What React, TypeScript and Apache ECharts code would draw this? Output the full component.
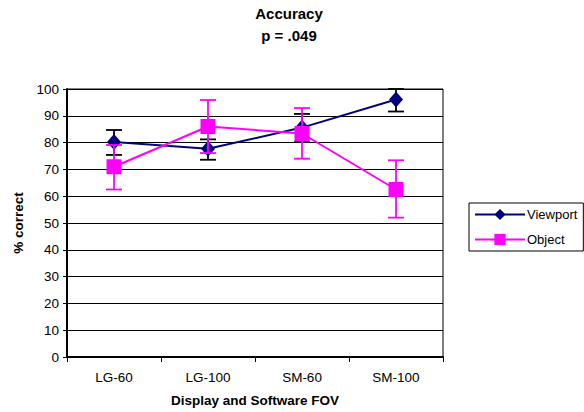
import React, { useEffect, useRef } from "react";
import * as echarts from "echarts";

const categories = ["LG-60", "LG-100", "SM-60", "SM-100"];
const viewport = [80.2, 77.7, 85.6, 96.1];
const viewportLow = [75.4, 73.6, 80.2, 91.6];
const viewportHigh = [84.7, 81.2, 90.7, 100];
const objectVals = [71, 86, 83.4, 62.5];
const objectLow = [62.5, 76.1, 74, 52];
const objectHigh = [79.1, 95.9, 92.9, 73.4];

const FONT = "Liberation Sans, Arial, sans-serif";

function errorSeries(name: string, low: number[], high: number[], color: string, z: number) {
  return {
    type: "custom",
    name: name + " error",
    z,
    silent: true,
    data: low.map((l, i) => [i, l, high[i]]),
    encode: { x: 0, y: [1, 2] },
    renderItem: (params: any, api: any) => {
      const i = api.value(0);
      const lo = api.coord([i, api.value(1)]);
      const hi = api.coord([i, api.value(2)]);
      const hw = 8;
      const style = { stroke: color, lineWidth: 1.8 };
      return {
        type: "group",
        children: [
          { type: "line", shape: { x1: lo[0], y1: lo[1], x2: hi[0], y2: hi[1] }, style },
          { type: "line", shape: { x1: lo[0] - hw, y1: lo[1], x2: lo[0] + hw, y2: lo[1] }, style },
          { type: "line", shape: { x1: hi[0] - hw, y1: hi[1], x2: hi[0] + hw, y2: hi[1] }, style },
        ],
      };
    },
  };
}

export default function App() {
  const ref = useRef<HTMLDivElement>(null);
  useEffect(() => {
    if (!ref.current) return;
    const chart = echarts.init(ref.current, null, { renderer: "svg" });
    chart.setOption({
      animation: false,
      backgroundColor: "#ffffff",
      title: {
        text: "Accuracy\np = .049",
        left: 289,
        textAlign: "center",
        top: 3,
        padding: 0,
        textStyle: { fontFamily: FONT, fontSize: 15, fontWeight: "bold", color: "#000", lineHeight: 21.6 },
      },
      grid: {
        left: 67,
        top: 89,
        right: 141,
        bottom: 52,
        show: true,
        borderColor: "#000",
        borderWidth: 1,
      },
      legend: {
        orient: "vertical",
        left: 469,
        top: 203,
        data: ["Viewport", "Object"],
        borderColor: "#000",
        borderWidth: 1,
        padding: [5, 6, 5, 5],
        itemGap: 12,
        itemWidth: 50,
        itemHeight: 14,
        textStyle: { fontFamily: FONT, fontSize: 13, color: "#000", padding: [0, 0, 0, -3] },
      },
      xAxis: {
        type: "category",
        data: categories,
        boundaryGap: true,
        axisLine: { lineStyle: { color: "#000", width: 2 } },
        axisTick: { show: true, length: 5, lineStyle: { color: "#000" } },
        axisLabel: { fontFamily: FONT, fontSize: 13.5, color: "#000", margin: 13 },
        name: "Display and Software FOV",
        nameLocation: "middle",
        nameGap: 36,
        nameTextStyle: { fontFamily: FONT, fontSize: 13.5, fontWeight: "bold", color: "#000" },
      },
      yAxis: {
        type: "value",
        min: 0,
        max: 100,
        interval: 10,
        axisLine: { show: true, lineStyle: { color: "#000", width: 2 } },
        axisTick: { show: true, length: 4, lineStyle: { color: "#000" } },
        axisLabel: { fontFamily: FONT, fontSize: 13.5, color: "#000", margin: 8 },
        splitLine: { show: true, lineStyle: { color: "#000", width: 1 } },
        name: "% correct",
        nameLocation: "middle",
        nameGap: 39,
        nameTextStyle: { fontFamily: FONT, fontSize: 13.5, fontWeight: "bold", color: "#000" },
      },
      series: [
        errorSeries("Viewport", viewportLow, viewportHigh, "#000000", 2),
        {
          type: "line",
          name: "Viewport",
          data: viewport,
          z: 3,
          color: "#000080",
          symbol: "diamond",
          symbolSize: [14, 16],
          lineStyle: { color: "#000080", width: 2 },
          itemStyle: { color: "#000080" },
        },
        errorSeries("Object", objectLow, objectHigh, "#ff00ff", 4),
        {
          type: "line",
          name: "Object",
          data: objectVals,
          z: 5,
          color: "#ff00ff",
          symbol: "rect",
          symbolSize: 15,
          lineStyle: { color: "#ff00ff", width: 2 },
          itemStyle: { color: "#ff00ff" },
        },
      ],
    });
    return () => chart.dispose();
  }, []);
  return (
    <div
      ref={ref}
      style={{ position: "fixed", left: 0, top: 0, width: 584, height: 412, background: "#fff" }}
    />
  );
}
